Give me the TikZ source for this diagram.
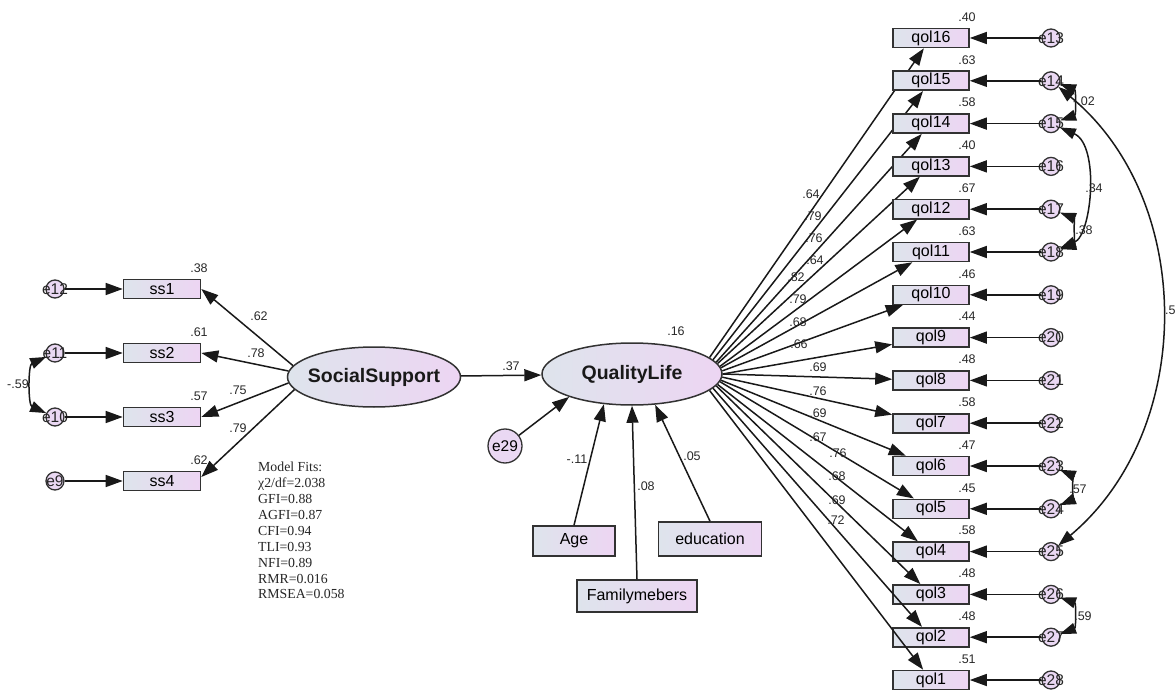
\documentclass[tikz,border=0pt]{standalone}
\usepackage{fontspec}
\setmainfont{Liberation Sans}
\newfontfamily\fitsfont{Liberation Serif}
\usetikzlibrary{arrows.meta,shapes.geometric}

\definecolor{gradL}{RGB}{222,228,236}
\definecolor{gradR}{RGB}{237,213,243}
\definecolor{errfill}{RGB}{234,216,243}
\definecolor{edge}{RGB}{50,50,50}
\definecolor{txt}{RGB}{40,40,40}

\tikzset{
  obs/.style={draw=edge, line width=1.6pt, left color=gradL, right color=gradR,
    minimum width=77pt, minimum height=19pt, inner sep=0pt, text=black,
    font=\fontsize{16}{16}\selectfont},
  lat/.style={ellipse, draw=edge, line width=1.5pt, left color=gradL, right color=gradR,
    inner sep=0pt},
  latlab/.style={text=black!90, inner sep=0pt, font=\bfseries\fontsize{19.5}{19.5}\selectfont},
  err/.style={circle, draw=edge, line width=1.3pt, fill=errfill, minimum size=18pt, inner sep=0pt},
  elab/.style={font=\fontsize{15.5}{15.5}\selectfont, text=black!85, inner sep=0pt},
  reg/.style={line width=1.5pt, draw=black!90, -{Triangle[length=17pt,width=12pt]}},
  cov/.style={line width=1.5pt, draw=black!90,
    {Triangle[length=16pt,width=11pt]}-{Triangle[length=16pt,width=11pt]}},
  coef/.style={font=\fontsize{12.5}{12.5}\selectfont, text=txt, inner sep=0pt},
}

\begin{document}
\begin{tikzpicture}[x=1pt, y=-1pt]
\useasboundingbox (0,0) rectangle (1176,690);

% latent variables
\node[lat, minimum width=173pt, minimum height=60pt,
  label={[latlab]center:SocialSupport}] (SS) at (374,377) {};
\node[lat, minimum width=180pt, minimum height=62pt,
  label={[latlab]center:QualityLife}] (QL) at (632,374) {};

% social support indicators
\foreach \n/\yy/\ee/\rr in {1/289/12/.38, 2/353/11/.61, 3/417/10/.57, 4/481/9/.62} {
  \node[obs] (ss\n) at (162,\yy) {ss\n};
  \node[err, label={[elab]center:e\ee}] (e\ee) at (55,\yy) {};
  \node[coef] at (199,\yy-21) {\rr};
  \draw[reg] (e\ee) -- (ss\n);
}
\draw[reg] (SS.172) -- (ss1.east);
\draw[reg] (SS.176) -- (ss2.east);
\draw[reg] (SS.184) -- (ss3.east);
\draw[reg] (SS.189) -- ([yshift=4pt]ss4.east);
\node[coef] at (259,316) {.62};
\node[coef] at (256,353) {.78};
\node[coef] at (238,390) {.75};
\node[coef] at (238,428) {.79};
\draw[cov] (e11) .. controls (28,365) and (28,405) .. (e10);
\node[coef] at (18,384) {-.59};

% structural part
\draw[reg] (SS) -- (QL);
\node[coef] at (511,366) {.37};
\node[coef] at (676,331) {.16};

\node[circle, draw=edge, line width=1.3pt, fill=errfill, minimum size=34pt, inner sep=0pt,
  font=\fontsize{15.5}{15.5}\selectfont] (e29) at (505,446) {e29};
\draw[reg] (e29) -- (QL.200);

\node[obs, minimum width=82pt, minimum height=30pt] (age) at (574,541) {Age};
\node[obs, minimum width=120pt, minimum height=32pt] (fam) at (637,596) {Familymebers};
\node[obs, minimum width=103pt, minimum height=34pt] (edu) at (710,539) {education};
\draw[reg] (age.north) -- (QL.227);
\draw[reg] (fam.north) -- (QL.270);
\draw[reg] (edu.north) -- (QL.307);
\node[coef] at (577,459) {-.11};
\node[coef] at (646,486) {.08};
\node[coef] at (692,456) {.05};

% quality of life indicators
\foreach \n/\rr/\ld/\lx/\ly in {16/.40/.64/811/194, 15/.63/.79/813/216, 14/.58/.76/814/238,
    13/.40/.64/815/260, 12/.67/.82/796/277, 11/.63/.79/798/299, 10/.46/.68/798/322,
    9/.44/.66/799/344, 8/.48/.69/818/367, 7/.58/.76/818/391, 6/.47/.69/818/413,
    5/.45/.67/818/437, 4/.58/.76/838/453, 3/.48/.68/837/476, 2/.48/.69/837/500, 1/.51/.72/836/520} {
  \pgfmathsetmacro\yy{38+(16-\n)*42.8}
  \pgfmathtruncatemacro\ee{29-\n}
  \pgfmathsetmacro\ang{12-(16-\n)*24/15}
  \node[obs, minimum width=76pt] (q\n) at (931,\yy) {qol\n};
  \node[err, label={[elab]center:e\ee}] (e\ee) at (1051,\yy) {};
  \node[coef] at (967,\yy-21) {\rr};
  \draw[reg] (e\ee) -- (q\n);
  \draw[reg] (QL.\ang) -- (q\n);
  \node[coef] at (\lx,\ly) {\ld};
}

% error covariances
\draw[cov] (e14) .. controls (1076,90) and (1076,115) .. (e15);
\node[coef] at (1084,101) {-.02};
\draw[cov] (e15) .. controls (1100,145) and (1092,235) .. (e18);
\node[coef] at (1094,188) {.34};
\draw[cov] (e17) .. controls (1074,218) and (1074,245) .. (e18);
\node[coef] at (1084,230) {.38};
\draw[cov] (e14) .. controls (1196,200) and (1196,430) .. (e25);
\node[coef, anchor=west] at (1165,310) {.5};
\draw[cov] (e23) .. controls (1072,475) and (1072,500) .. (e24);
\node[coef] at (1078,489) {.57};
\draw[cov] (e26) .. controls (1076,603) and (1076,628) .. (e27);
\node[coef] at (1083,616) {.59};

% fit indices
\node[anchor=north west, align=left, inner sep=0pt, text=black!85,
  font=\fitsfont\fontsize{13.8}{15.9}\selectfont] (fits) at (258,462)
  {Model Fits:\\ χ2/df=2.038\\ GFI=0.88\\ AGFI=0.87\\ CFI=0.94\\ TLI=0.93\\ NFI=0.89\\ RMR=0.016\\ RMSEA=0.058};
\end{tikzpicture}
\end{document}
